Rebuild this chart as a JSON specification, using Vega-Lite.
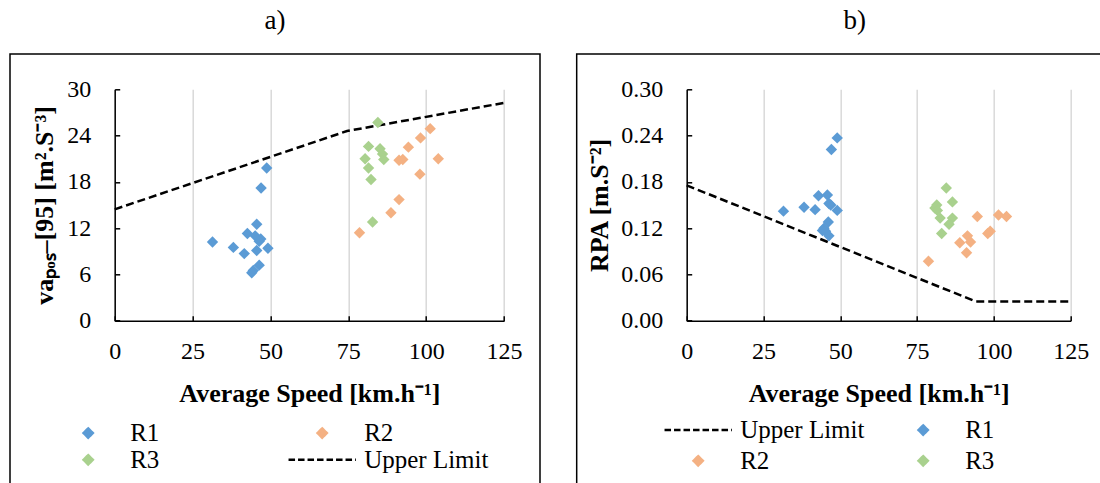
{
  "$schema": "https://vega.github.io/schema/vega-lite/v6.json",
  "autosize": "none",
  "padding": {"left": 114.7, "top": 89.3, "right": 985.3, "bottom": 393.7},
  "background": "white",
  "spacing": 182,
  "bounds": "flush",
  "resolve": {
    "scale": {"x": "independent", "y": "independent", "color": "independent"},
    "legend": {"color": "independent"},
    "axis": {"x": "independent", "y": "independent"}
  },
  "config": {
    "view": {"stroke": null},
    "font": "Liberation Serif",
    "axis": {
      "labelFont": "Liberation Serif", "titleFont": "Liberation Serif",
      "labelColor": "#000000", "titleColor": "#000000",
      "domainColor": "#000000", "tickColor": "#000000",
      "domainWidth": 1.5, "tickWidth": 1.5, "tickSize": -5,
      "labelFontSize": 24, "titleFontSize": 26, "titleFontWeight": "bold"
    },
    "axisX": {"grid": true, "gridColor": "#d9d9d9", "gridWidth": 1.5, "labelPadding": 23.5, "labelFlush": false, "labelOverlap": false},
    "axisY": {"grid": false, "labelPadding": 29, "labelOverlap": false},
    "legend": {"labelFont": "Liberation Serif", "labelFontSize": 25, "labelColor": "#000000", "padding": 0},
    "title": {"font": "Liberation Serif", "fontSize": 27, "fontWeight": "normal", "color": "#000000"}
  },
  "hconcat": [
    {
      "width": 389.3,
      "height": 231.4,
      "title": {"text": "a)", "anchor": "middle", "frame": "bounds", "baseline": "alphabetic", "offset": -3},
      "layer": [
        {
          "data": {"values": [{"panel": "a"}]},
          "mark": {"type": "rect", "fill": null, "stroke": "#000000", "strokeWidth": 1.5},
          "encoding": {
            "x": {"datum": -33.62, "type": "quantitative", "scale": {"domain": [0, 125], "nice": false, "zero": false}},
            "x2": {"datum": 136.56},
            "y": {"datum": 34.58, "type": "quantitative", "scale": {"domain": [0, 30], "nice": false}},
            "y2": {"datum": -21.95}
          }
        },
        {
          "data": {"values": [
            {"speed": 0, "value": 14.44, "series": "Upper Limit"},
            {"speed": 74.6, "value": 24.59, "series": "Upper Limit"},
            {"speed": 125, "value": 28.24, "series": "Upper Limit"}
          ]},
          "mark": {"type": "line", "strokeDash": [8, 4], "strokeWidth": 2.5},
          "encoding": {
            "x": {"field": "speed", "type": "quantitative", "scale": {"domain": [0, 125], "nice": false, "zero": false}},
            "y": {"field": "value", "type": "quantitative", "scale": {"domain": [0, 30], "nice": false}},
            "color": {"field": "series", "type": "nominal", "scale": {"domain": ["R1", "R2", "R3", "Upper Limit"], "range": ["#5b9bd5", "#f4b183", "#a9d18e", "#000000"]}}
          }
        },
        {
          "data": {"values": [
            {"speed": 48.8, "value": 19.8, "series": "R1"},
            {"speed": 47.0, "value": 17.2, "series": "R1"},
            {"speed": 45.6, "value": 12.5, "series": "R1"},
            {"speed": 42.6, "value": 11.3, "series": "R1"},
            {"speed": 31.4, "value": 10.2, "series": "R1"},
            {"speed": 38.1, "value": 9.5, "series": "R1"},
            {"speed": 45.1, "value": 11.0, "series": "R1"},
            {"speed": 46.9, "value": 10.6, "series": "R1"},
            {"speed": 46.4, "value": 10.3, "series": "R1"},
            {"speed": 45.6, "value": 9.1, "series": "R1"},
            {"speed": 49.2, "value": 9.4, "series": "R1"},
            {"speed": 41.6, "value": 8.7, "series": "R1"},
            {"speed": 46.4, "value": 7.2, "series": "R1"},
            {"speed": 44.5, "value": 6.5, "series": "R1"},
            {"speed": 44.0, "value": 6.2, "series": "R1"},
            {"speed": 78.6, "value": 11.4, "series": "R2"},
            {"speed": 88.7, "value": 14.0, "series": "R2"},
            {"speed": 91.3, "value": 15.7, "series": "R2"},
            {"speed": 91.3, "value": 20.8, "series": "R2"},
            {"speed": 92.5, "value": 20.9, "series": "R2"},
            {"speed": 94.3, "value": 22.5, "series": "R2"},
            {"speed": 98.0, "value": 19.0, "series": "R2"},
            {"speed": 98.2, "value": 23.7, "series": "R2"},
            {"speed": 101.3, "value": 24.9, "series": "R2"},
            {"speed": 103.9, "value": 21.0, "series": "R2"},
            {"speed": 84.5, "value": 25.7, "series": "R3"},
            {"speed": 81.5, "value": 22.6, "series": "R3"},
            {"speed": 85.2, "value": 22.3, "series": "R3"},
            {"speed": 86.0, "value": 21.6, "series": "R3"},
            {"speed": 86.4, "value": 20.9, "series": "R3"},
            {"speed": 80.4, "value": 21.0, "series": "R3"},
            {"speed": 81.5, "value": 19.8, "series": "R3"},
            {"speed": 82.3, "value": 18.3, "series": "R3"},
            {"speed": 82.8, "value": 12.8, "series": "R3"}
          ]},
          "mark": {"type": "point", "shape": "diamond", "filled": true, "size": 130, "opacity": 1},
          "encoding": {
            "x": {
              "field": "speed", "type": "quantitative",
              "scale": {"domain": [0, 125], "nice": false, "zero": false},
              "axis": {"title": "Average Speed [km.h⁻¹]", "values": [0, 25, 50, 75, 100, 125], "titleBaseline": "alphabetic", "titleY": 81}
            },
            "y": {
              "field": "value", "type": "quantitative",
              "scale": {"domain": [0, 30], "nice": false},
              "axis": {"title": "vaₚₒₛ–[95] [m².S⁻³]", "values": [0, 6, 12, 18, 24, 30], "titleBaseline": "alphabetic", "titleX": -62}
            },
            "color": {
              "field": "series", "type": "nominal",
              "scale": {"domain": ["R1", "R2", "R3", "Upper Limit"], "range": ["#5b9bd5", "#f4b183", "#a9d18e", "#000000"]},
              "legend": {
                "title": null, "orient": "none", "legendX": -39, "legendY": 331,
                "columns": 2, "direction": "horizontal",
                "symbolSize": 86.5, "symbolOffset": 0, "labelOffset": 29.5,
                "rowPadding": 1, "columnPadding": 123,
                "encoding": {
                  "symbols": {
                    "shape": {"value": {"expr": "datum.value === 'Upper Limit' ? 'M-7.24,0H7.24' : 'M-7.24,0M7.24,0M-1,0L0,-1L1,0L0,1Z'"}},
                    "fill": {"value": {"expr": "datum.value === 'R1' ? '#5b9bd5' : datum.value === 'R2' ? '#f4b183' : datum.value === 'R3' ? '#a9d18e' : 'transparent'"}},
                    "stroke": {"value": {"expr": "datum.value === 'Upper Limit' ? '#000000' : 'transparent'"}},
                    "strokeDash": {"value": {"expr": "datum.value === 'Upper Limit' ? [6.5, 3] : [1, 0]"}},
                    "strokeWidth": {"value": 2.5},
                    "opacity": {"value": 1}
                  }
                }
              }
            }
          }
        }
      ]
    },
    {
      "width": 384,
      "height": 231.4,
      "title": {"text": "b)", "anchor": "middle", "frame": "bounds", "baseline": "alphabetic", "offset": -3},
      "layer": [
        {
          "data": {"values": [{"panel": "b"}]},
          "mark": {"type": "rect", "fill": null, "stroke": "#000000", "strokeWidth": 1.5},
          "encoding": {
            "x": {"datum": -35.81, "type": "quantitative", "scale": {"domain": [0, 125], "nice": false, "zero": false}},
            "x2": {"datum": 145.18},
            "y": {"datum": 0.34577, "type": "quantitative", "scale": {"domain": [0, 0.3], "nice": false}},
            "y2": {"datum": -0.2195}
          }
        },
        {
          "data": {"values": [
            {"speed": 0, "value": 0.1755, "series": "Upper Limit"},
            {"speed": 94.05, "value": 0.025, "series": "Upper Limit"},
            {"speed": 125, "value": 0.025, "series": "Upper Limit"}
          ]},
          "mark": {"type": "line", "strokeDash": [8, 4], "strokeWidth": 2.5},
          "encoding": {
            "x": {"field": "speed", "type": "quantitative", "scale": {"domain": [0, 125], "nice": false, "zero": false}},
            "y": {"field": "value", "type": "quantitative", "scale": {"domain": [0, 0.3], "nice": false}},
            "color": {"field": "series", "type": "nominal", "scale": {"domain": ["Upper Limit", "R1", "R2", "R3"], "range": ["#000000", "#5b9bd5", "#f4b183", "#a9d18e"]}}
          }
        },
        {
          "data": {"values": [
            {"speed": 31.5, "value": 0.142, "series": "R1"},
            {"speed": 38.2, "value": 0.147, "series": "R1"},
            {"speed": 41.8, "value": 0.144, "series": "R1"},
            {"speed": 42.9, "value": 0.162, "series": "R1"},
            {"speed": 45.8, "value": 0.163, "series": "R1"},
            {"speed": 46.3, "value": 0.152, "series": "R1"},
            {"speed": 46.9, "value": 0.150, "series": "R1"},
            {"speed": 49.0, "value": 0.143, "series": "R1"},
            {"speed": 49.0, "value": 0.237, "series": "R1"},
            {"speed": 47.1, "value": 0.222, "series": "R1"},
            {"speed": 46.1, "value": 0.128, "series": "R1"},
            {"speed": 44.7, "value": 0.120, "series": "R1"},
            {"speed": 44.2, "value": 0.117, "series": "R1"},
            {"speed": 45.2, "value": 0.116, "series": "R1"},
            {"speed": 46.3, "value": 0.110, "series": "R1"},
            {"speed": 78.7, "value": 0.077, "series": "R2"},
            {"speed": 88.9, "value": 0.101, "series": "R2"},
            {"speed": 91.4, "value": 0.110, "series": "R2"},
            {"speed": 92.4, "value": 0.102, "series": "R2"},
            {"speed": 91.1, "value": 0.088, "series": "R2"},
            {"speed": 94.6, "value": 0.135, "series": "R2"},
            {"speed": 98.0, "value": 0.113, "series": "R2"},
            {"speed": 98.8, "value": 0.116, "series": "R2"},
            {"speed": 101.5, "value": 0.137, "series": "R2"},
            {"speed": 104.1, "value": 0.135, "series": "R2"},
            {"speed": 84.5, "value": 0.172, "series": "R3"},
            {"speed": 81.4, "value": 0.150, "series": "R3"},
            {"speed": 80.8, "value": 0.146, "series": "R3"},
            {"speed": 81.6, "value": 0.143, "series": "R3"},
            {"speed": 86.5, "value": 0.154, "series": "R3"},
            {"speed": 82.5, "value": 0.133, "series": "R3"},
            {"speed": 86.5, "value": 0.133, "series": "R3"},
            {"speed": 85.4, "value": 0.125, "series": "R3"},
            {"speed": 83.0, "value": 0.113, "series": "R3"}
          ]},
          "mark": {"type": "point", "shape": "diamond", "filled": true, "size": 130, "opacity": 1},
          "encoding": {
            "x": {
              "field": "speed", "type": "quantitative",
              "scale": {"domain": [0, 125], "nice": false, "zero": false},
              "axis": {"title": "Average Speed [km.h⁻¹]", "values": [0, 25, 50, 75, 100, 125], "titleBaseline": "alphabetic", "titleY": 81}
            },
            "y": {
              "field": "value", "type": "quantitative",
              "scale": {"domain": [0, 0.3], "nice": false},
              "axis": {"title": "RPA [m.S⁻²]", "values": [0, 0.06, 0.12, 0.18, 0.24, 0.3], "format": ".2f", "titleBaseline": "alphabetic", "titleX": -79}
            },
            "color": {
              "field": "series", "type": "nominal",
              "scale": {"domain": ["Upper Limit", "R1", "R2", "R3"], "range": ["#000000", "#5b9bd5", "#f4b183", "#a9d18e"]},
              "legend": {
                "title": null, "orient": "none", "legendX": -1, "legendY": 328,
                "columns": 2, "direction": "horizontal",
                "symbolSize": 86.5, "symbolOffset": 0, "labelOffset": 29.5,
                "rowPadding": 5, "columnPadding": 19,
                "encoding": {
                  "symbols": {
                    "shape": {"value": {"expr": "datum.value === 'Upper Limit' ? 'M-7.24,0H7.24' : 'M-7.24,0M7.24,0M-1,0L0,-1L1,0L0,1Z'"}},
                    "fill": {"value": {"expr": "datum.value === 'R1' ? '#5b9bd5' : datum.value === 'R2' ? '#f4b183' : datum.value === 'R3' ? '#a9d18e' : 'transparent'"}},
                    "stroke": {"value": {"expr": "datum.value === 'Upper Limit' ? '#000000' : 'transparent'"}},
                    "strokeDash": {"value": {"expr": "datum.value === 'Upper Limit' ? [6.5, 3] : [1, 0]"}},
                    "strokeWidth": {"value": 2.5},
                    "opacity": {"value": 1}
                  }
                }
              }
            }
          }
        }
      ]
    }
  ]
}
